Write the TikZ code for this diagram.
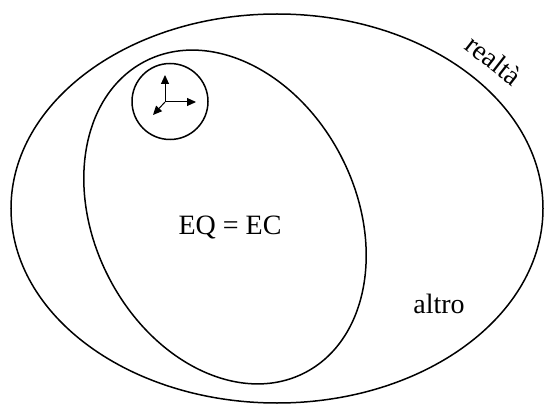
\documentclass[tikz,border=0pt]{standalone}
\usepackage{fontspec}
\setmainfont{Liberation Serif}
\usetikzlibrary{arrows.meta,positioning}

\begin{document}
\begin{tikzpicture}[
    x=1pt, y=1pt,
    set/.style={draw=black, line width=1.5pt},
    axis/.style={line width=1pt, -{Triangle[length=9pt,width=8pt]}},
    label/.style={font=\fontsize{28}{30}\selectfont, inner sep=0pt}
]
\useasboundingbox (0,0) rectangle (544,405);

% Sets
\draw[set] (277,196.5) ellipse [x radius=266, y radius=194.5];
\draw[set, rotate around={27:(225,188)}] (225,188) ellipse [x radius=131, y radius=175];
\draw[set] (170,303.5) circle [radius=38];

% Frame in the small circle
\coordinate (o) at (165,303);
\coordinate (ez) at (165,330);
\coordinate (ex) at (196,303);
\coordinate (ey) at (153,290);
\draw[axis] (o) -- (ez);
\draw[axis] (o) -- (ex);
\draw[axis] (o) -- (ey);

% Labels
\node[label] (eq) at (230,178) {EQ = EC};
\node[label] (altro) at (439,101) {altro};
\node[label, rotate=-38] (realta) at (494,345) {realtà};

\end{tikzpicture}
\end{document}
